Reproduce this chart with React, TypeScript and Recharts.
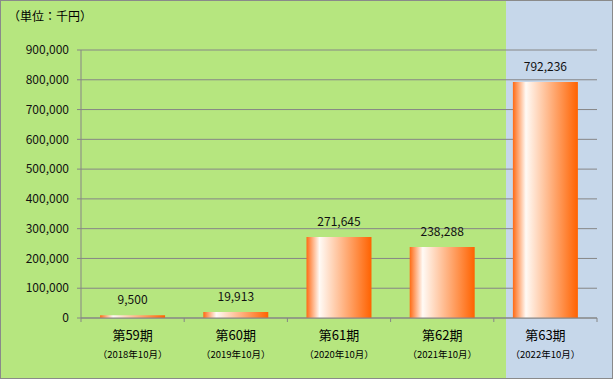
import { BarChart, Bar, XAxis, YAxis, CartesianGrid, LabelList } from 'recharts';

const periods = ['第59期', '第60期', '第61期', '第62期', '第63期'];
const terms = ['（2018年10月）', '（2019年10月）', '（2020年10月）', '（2021年10月）', '（2022年10月）'];
const revenue = [9500, 19913, 271645, 238288, 792236];
const yTicks = [0, 100000, 200000, 300000, 400000, 500000, 600000, 700000, 800000, 900000];

const data = periods.map((p, i) => ({ period: p, term: terms[i], value: revenue[i] }));

const fmt = (v: number) => Number(v).toLocaleString('en-US');

function PeriodTick(props: any) {
  const { x, y, payload, index, width, visibleTicksCount } = props;
  const band = (Number(width) || 516) / (visibleTicksCount || 5);
  const term = terms[periods.indexOf(payload.value)];
  return (
    <g>
      {index === 0 && <line x1={x - band / 2} x2={x - band / 2} y1={y} y2={y + 4} stroke="#868686" />}
      <line x1={x + band / 2} x2={x + band / 2} y1={y} y2={y + 4} stroke="#868686" />
      <text x={x} y={y + 22} textAnchor="middle" fontSize={13} fill="#000">{payload.value}</text>
      <text x={x} y={y + 40} textAnchor="middle" fontSize={9.5} fill="#000">{term}</text>
    </g>
  );
}

export default function App() {
  return (
    <div
      style={{
        position: 'relative',
        width: 613,
        height: 379,
        boxSizing: 'border-box',
        border: '1px solid #8a8a8a',
        background: '#b6e67f',
        fontFamily: '"Noto Sans CJK JP", sans-serif',
      }}
    >
      <style>{'body{margin:0}'}</style>
      <div style={{ position: 'absolute', left: 505, top: 0, right: 0, bottom: 0, background: '#c6d7ea' }} />
      <div style={{ position: 'absolute', left: 7, top: 6, fontSize: 12, color: '#000' }}>（単位：千円）</div>
      <div style={{ position: 'absolute', left: -1, top: -1 }}>
        <BarChart width={613} height={379} data={data} margin={{ top: 50, right: 16, bottom: 0, left: 0 }} barCategoryGap="18.5%">
          <defs>
            <linearGradient id="barGrad" x1="0" y1="0" x2="1" y2="0">
              <stop offset="0" stopColor="#ff6a14" />
              <stop offset="0.2" stopColor="#fffaf5" />
              <stop offset="1" stopColor="#ff6200" />
            </linearGradient>
          </defs>
          <CartesianGrid vertical={false} stroke="#868686" />
          <XAxis
            dataKey="period"
            height={61}
            axisLine={{ stroke: '#868686' }}
            tickLine={false}
            tickSize={0}
            tickMargin={0}
            interval={0}
            tick={<PeriodTick />}
          />
          <YAxis
            domain={[0, 900000]}
            ticks={yTicks}
            width={81}
            tickFormatter={fmt}
            axisLine={{ stroke: '#868686' }}
            tickLine={{ stroke: '#868686' }}
            tickSize={4}
            tickMargin={8}
            tick={{ fontSize: 12, fill: '#111' }}
          />
          <Bar dataKey="value" fill="url(#barGrad)" isAnimationActive={false}>
            <LabelList dataKey="value" position="top" offset={11} formatter={fmt} fontSize={12} fill="#111" />
          </Bar>
        </BarChart>
      </div>
    </div>
  );
}
